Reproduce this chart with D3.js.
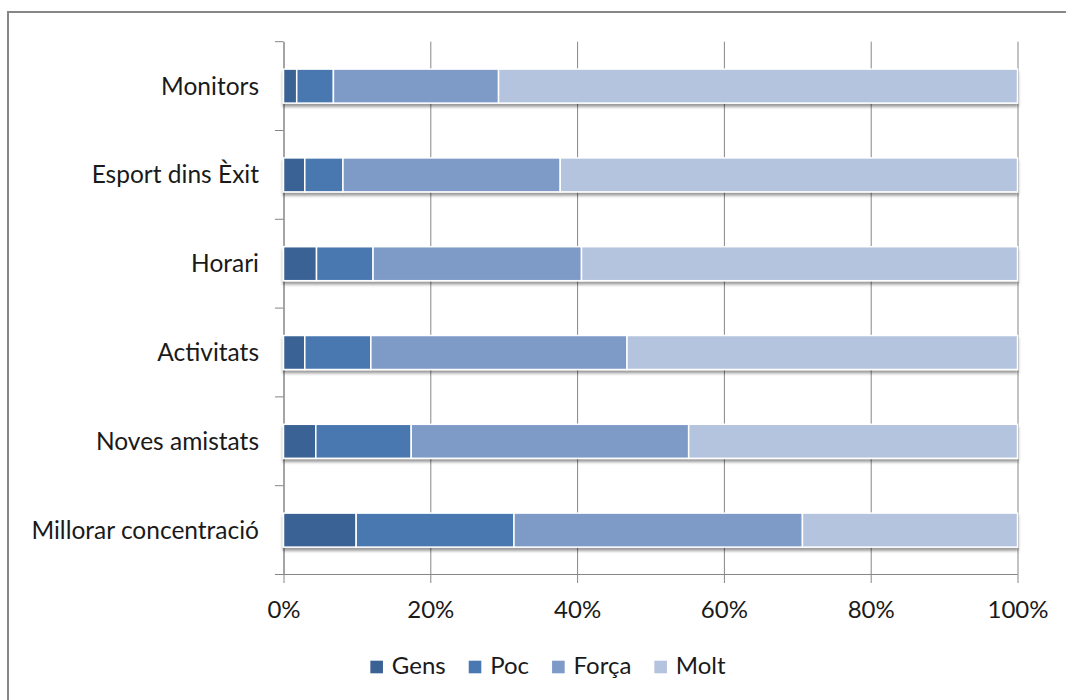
<!DOCTYPE html>
<html>
<head>
<meta charset="utf-8">
<script src="https://cdn.jsdelivr.net/npm/d3@7"></script>
<style>
  html, body { margin: 0; padding: 0; background: #fff; }
  svg { display: block; }
  text { font-family: Lato, "Open Sans", sans-serif; fill: #1a1a1a; }
</style>
</head>
<body>
<svg id="chart" width="1066" height="700"></svg>
<script>
const categories = ["Monitors", "Esport dins Èxit", "Horari", "Activitats", "Noves amistats", "Millorar concentració"];
const seriesNames = ["Gens", "Poc", "Força", "Molt"];
const gens  = [1.8, 2.9, 4.5, 2.9, 4.4, 9.9];
const poc   = [5.0, 5.2, 7.7, 9.0, 13.0, 21.5];
const forca = [22.5, 29.6, 28.4, 34.9, 37.8, 39.3];
const molt  = [70.7, 62.3, 59.4, 53.2, 44.8, 29.3];
const xTicks = [0, 0.2, 0.4, 0.6, 0.8, 1.0];
const colors = ["#3B6295", "#4A78B0", "#7E9BC8", "#B4C3DE"];

const seriesValues = [gens, poc, forca, molt];
const rows = categories.map((c, i) => {
  const r = { cat: c };
  const total = seriesValues.reduce((s, arr) => s + arr[i], 0);
  seriesNames.forEach((n, k) => r[n] = seriesValues[k][i] / total);
  return r;
});

const svg = d3.select("#chart");
const plotLeft = 283.5, plotRight = 1017.5, plotTop = 41.7, plotBottom = 574.5;
const barH = 34;

// outer frame
svg.append("rect").attr("x", 8).attr("y", 12).attr("width", 1080).attr("height", 720)
  .attr("fill", "none").attr("stroke", "#878787").attr("stroke-width", 2);

const x = d3.scaleLinear().domain([0, 1]).range([plotLeft, plotRight]);
const y = d3.scaleBand().domain(categories).range([plotTop, plotBottom]).padding(0);

const defs = svg.append("defs");
const f = defs.append("filter").attr("id", "shadow").attr("x", "-5%").attr("y", "-20%").attr("width", "110%").attr("height", "160%");
f.append("feDropShadow").attr("dx", 0).attr("dy", 3).attr("stdDeviation", 1.6)
  .attr("flood-color", "#000").attr("flood-opacity", 0.4);

// gridlines + x ticks
const xAxis = d3.axisBottom(x).tickValues(xTicks).tickFormat(d3.format(".0%"))
  .tickSize(-(plotBottom - plotTop)).tickSizeOuter(0).tickPadding(0);
const gx = svg.append("g").attr("transform", `translate(0,${plotBottom})`).call(xAxis);
gx.select(".domain").remove();
gx.selectAll(".tick line").attr("stroke", "#868686").attr("stroke-width", 1).attr("y2", -(plotBottom - plotTop)).attr("y1", 8.5);
gx.selectAll(".tick text").attr("font-size", 24).attr("fill", "#1a1a1a").attr("dy", null).attr("y", 43.5);

// baseline x-axis line
svg.append("line").attr("x1", plotLeft - 8.5).attr("x2", plotRight).attr("y1", plotBottom).attr("y2", plotBottom)
  .attr("stroke", "#868686").attr("stroke-width", 1);

// y axis
const yAxis = d3.axisLeft(y).tickSize(0).tickPadding(0).tickFormat(() => "");
const gy = svg.append("g").attr("transform", `translate(${plotLeft},0)`).call(yAxis);
gy.select(".domain").attr("stroke", "#868686");
gy.selectAll(".tick").remove();
const boundaries = d3.range(categories.length + 1).map(k => plotTop + k * y.step());
svg.append("g").selectAll("line").data(boundaries).join("line")
  .attr("x1", plotLeft - 8.5).attr("x2", plotLeft).attr("y1", d => d).attr("y2", d => d)
  .attr("stroke", "#868686").attr("stroke-width", 1);

// category labels
svg.append("g").selectAll("text").data(categories).join("text")
  .attr("x", 259).attr("y", d => y(d) + y.bandwidth() / 2 + 8.5)
  .attr("text-anchor", "end").attr("font-size", 24.5).text(d => d);

// bars
const stack = d3.stack().keys(seriesNames)(rows);
const bars = svg.append("g").attr("filter", "url(#shadow)");
stack.forEach((layer, k) => {
  bars.append("g").selectAll("rect").data(layer).join("rect")
    .attr("x", d => x(d[0]))
    .attr("y", d => y(d.data.cat) + (y.bandwidth() - barH) / 2)
    .attr("width", d => x(d[1]) - x(d[0]))
    .attr("height", barH)
    .attr("fill", colors[k])
    .attr("stroke", "#fff").attr("stroke-width", 1.5);
});

// legend
const legend = svg.append("g");
const items = legend.selectAll("g").data(seriesNames).join("g");
items.append("rect").attr("width", 12.6).attr("height", 12.6).attr("y", -13.6).attr("fill", (d, i) => colors[i]);
items.append("text").attr("x", 21.5).attr("y", 0).attr("font-size", 24).text(d => d);
let cursor = 0;
items.each(function() {
  const g = d3.select(this);
  g.attr("transform", `translate(${cursor},0)`);
  const w = g.select("text").node().getComputedTextLength();
  cursor += 21.5 + w + 23;
});
const totalW = cursor - 23;
legend.attr("transform", `translate(${548 - totalW / 2},674.3)`);
</script>
</body>
</html>
